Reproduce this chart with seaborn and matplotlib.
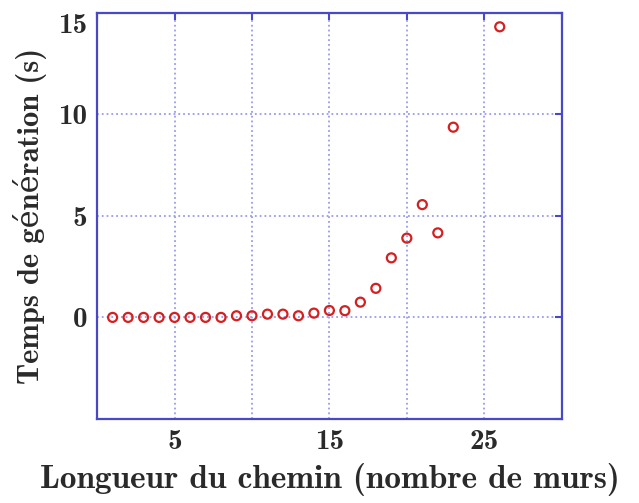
import matplotlib
matplotlib.use("Agg")
import matplotlib.pyplot as plt
import seaborn as sns
import pandas as pd

longueur = [1, 2, 3, 4, 5, 6, 7, 8, 9, 10, 11, 12, 13, 14, 15, 16, 17, 18, 19, 20, 21, 22, 23, 26]
temps = [0.0, 0.0, 0.0, 0.0, 0.0, 0.0, 0.0, 0.0, 0.08, 0.08, 0.16, 0.16, 0.08, 0.21, 0.34, 0.33,
         0.75, 1.43, 2.93, 3.9, 5.55, 4.16, 9.36, 14.3]
x_ticks = [5, 15, 25]
y_ticks = [0, 5, 10, 15]

df = pd.DataFrame({"x": longueur, "y": temps})

sns.set_theme(style="white")
plt.rcParams['font.family'] = ['cmb10', 'DejaVu Serif']
plt.rcParams['axes.unicode_minus'] = False

fig = plt.figure(figsize=(6.39, 5.03), dpi=100)
ax = fig.add_axes([0.152, 0.167, 0.727, 0.808])

sns.scatterplot(data=df, x="x", y="y", ax=ax, marker="o", s=42,
                facecolor="none", edgecolor="#d42020", linewidth=1.6, zorder=3)

ax.set_xlim(0, 30)
ax.set_ylim(-5, 15)
ax.set_xticks([0, 5, 10, 15, 20, 25, 30])
ax.set_xticklabels(["" if v not in x_ticks else str(v) for v in [0, 5, 10, 15, 20, 25, 30]])
ax.set_yticks([-5, 0, 5, 10, 15])
ax.set_yticklabels(["" if v not in y_ticks else str(v) for v in [-5, 0, 5, 10, 15]])

spine_col = "#4848c8"
grid_col = "#9a9aee"
for s in ax.spines.values():
    s.set_color(spine_col)
    s.set_linewidth(1.6)
    s.set_visible(True)
ax.grid(True, color=grid_col, linestyle=":", linewidth=1.3)
ax.tick_params(direction="in", length=5, width=1.5, color=spine_col,
               top=True, right=True, labelsize=21, labelcolor="#2a2a2a")
ax.tick_params(axis="x", pad=7)
ax.tick_params(axis="y", pad=7)

# top y tick label sits just below the top edge in the reference
ax.get_yticklabels()[-1].set_verticalalignment("top")

ax.set_xlabel("Longueur du chemin (nombre de murs)", fontsize=24, color="#2a2a2a", labelpad=6)
ax.set_ylabel("Temps de génération (s)", fontsize=22, color="#2a2a2a", labelpad=8)

fig.savefig("out.png", dpi=100)
